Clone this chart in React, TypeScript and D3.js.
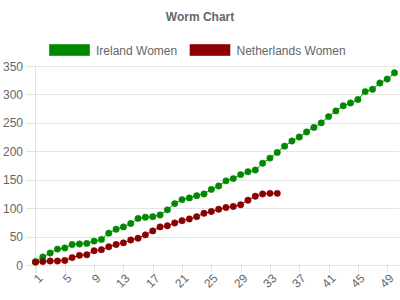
import React from "react";
import * as d3 from "d3";

const title = "Worm Chart";
const seriesNames = ["Ireland Women", "Netherlands Women"];
const seriesColors = ["#008800", "#8b0000"];
const overs = Array.from({ length: 50 }, (_, i) => String(i + 1));
const irelandRuns = [6, 14, 21, 28, 30, 36, 37, 38, 42, 45, 56, 63, 67, 73, 82, 84, 85, 88, 97, 108, 115, 118, 122, 125, 133, 139, 148, 152, 159, 164, 167, 179, 188, 198, 209, 218, 225, 234, 242, 250, 261, 271, 280, 285, 291, 305, 309, 320, 327, 338];
const netherlandsRuns = [5, 6, 7, 7, 8, 13, 17, 18, 25, 27, 32, 36, 39, 44, 47, 53, 60, 67, 69, 74, 78, 81, 85, 91, 94, 98, 101, 103, 106, 114, 121, 125, 126, 126];
const yTicks = [0, 50, 100, 150, 200, 250, 300, 350];

const W = 400;
const H = 300;
const left = 35.5;
const right = 394.5;
const top = 66;
const bottom = 265;
const FONT = "'Liberation Sans', Arial, Helvetica, sans-serif";
const TXT = "#666";
const GRID = "rgba(0,0,0,0.1)";

export default function App() {
  const x = d3.scalePoint<string>().domain(overs).range([left, right]);
  const y = d3.scaleLinear().domain([0, 350]).range([bottom, top]);
  const series = [irelandRuns, netherlandsRuns];
  const line = d3
    .line<number>()
    .x((_, i) => x(overs[i]) as number)
    .y((d) => y(d));
  const shownTicks = overs.filter((_, i) => i % 4 === 0);

  const legendItems = [
    { bx: 49.5, tx: 96 },
    { bx: 190, tx: 236.5 },
  ];

  return (
    <svg
      width={W}
      height={H}
      style={{ position: "absolute", left: 0, top: 0, display: "block", background: "#fff" }}
      fontFamily={FONT}
    >
      <text x={200} y={21} textAnchor="middle" fontSize={12} fontWeight="bold" fill={TXT}>
        {title}
      </text>
      {seriesNames.map((name, k) => (
        <g key={name}>
          <rect
            x={legendItems[k].bx}
            y={44.5}
            width={40}
            height={11}
            fill={seriesColors[k]}
            stroke={seriesColors[k]}
            strokeOpacity={0.6}
          />
          <text x={legendItems[k].tx} y={54.5} fontSize={12} fill={TXT}>
            {name}
          </text>
        </g>
      ))}
      {yTicks.map((t) => (
        <g key={t}>
          <line x1={26} x2={right + 5} y1={Math.round(y(t)) + 0.5} y2={Math.round(y(t)) + 0.5} stroke={GRID} />
          <text x={23} y={y(t) + 4.5} textAnchor="end" fontSize={12} fill={TXT}>
            {t}
          </text>
        </g>
      ))}
      <line x1={left} x2={left} y1={top} y2={bottom + 8} stroke={GRID} />
      {shownTicks.map((t) => {
        const px = Math.round(x(t) as number) + 0.5;
        return (
          <g key={t}>
            <line x1={px} x2={px} y1={bottom} y2={bottom + 8} stroke={GRID} />
            <text
              transform={`translate(${px + 4},${bottom + 11}) rotate(-45)`}
              textAnchor="end"
              dy="0.35em"
              fontSize={12}
              fill={TXT}
            >
              {t}
            </text>
          </g>
        );
      })}
      {series.map((vals, k) => (
        <g key={k}>
          <path d={line(vals) || ""} fill="none" stroke={seriesColors[k]} strokeWidth={1} />
          {vals.map((v, i) => (
            <circle
              key={i}
              cx={x(overs[i]) as number}
              cy={y(v)}
              r={3.2}
              fill={seriesColors[k]}
              stroke={seriesColors[k]}
              strokeOpacity={0.5}
              strokeWidth={1}
            />
          ))}
        </g>
      ))}
    </svg>
  );
}
